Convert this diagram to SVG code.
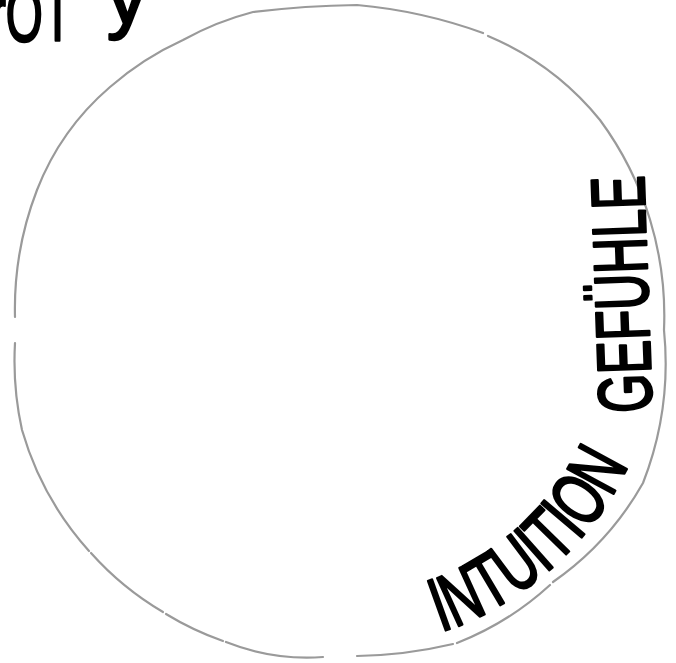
<svg xmlns="http://www.w3.org/2000/svg" width="676" height="663" viewBox="0 0 676 663">
<style>
.ring{fill:none;stroke:#9a9a9a;stroke-width:2.2;stroke-linecap:round}
.hand{font-family:"Liberation Sans","DejaVu Sans",sans-serif;fill:#000;stroke:#000;stroke-width:2.6;stroke-linejoin:round}
</style>
<defs>
<path id="arcIntuition" d="M 441 632 A 318 318 0 0 0 631 459"/>
</defs>
<rect width="676" height="663" fill="#fff"/>
<g id="circle">
<path class="ring" d="M 15 317 A 330 330 0 0 1 37 190 A 260 260 0 0 1 110 87 A 300 300 0 0 1 183 40 A 300 300 0 0 1 253 12 A 1000 1000 0 0 1 357 5 A 500 500 0 0 1 483 33"/>
<path class="ring" d="M 488 36 A 290 290 0 0 1 600 120 A 330 330 0 0 1 664 330 A 330 330 0 0 1 643 483 A 300 300 0 0 1 553 582"/>
<path class="ring" d="M 550 585 A 300 300 0 0 1 457 643"/>
<path class="ring" d="M 453 644 A 450 450 0 0 1 357 656"/>
<path class="ring" d="M 323 657 A 220 220 0 0 1 226 642"/>
<path class="ring" d="M 223 641 A 300 300 0 0 1 166 614"/>
<path class="ring" d="M 163 612 A 300 300 0 0 1 91 553"/>
<path class="ring" d="M 89 551 A 310 310 0 0 1 22 430 A 320 320 0 0 1 15 343"/>
</g>
<g id="label-top">
<text class="hand" x="-10" y="41" font-size="78" textLength="82" lengthAdjust="spacingAndGlyphs">rOT</text>
<text class="hand" x="107" y="23" font-size="80">y</text>
</g>
<g id="label-gefuehle">
<text class="hand" transform="translate(652 412) rotate(-92)" x="0" y="0" font-size="76" textLength="237" lengthAdjust="spacingAndGlyphs">GEFÜHLE</text>
</g>
<g id="label-intuition">
<text class="hand" font-size="76"><textPath href="#arcIntuition" textLength="258" lengthAdjust="spacingAndGlyphs">INTUITION</textPath></text>
</g>
</svg>
